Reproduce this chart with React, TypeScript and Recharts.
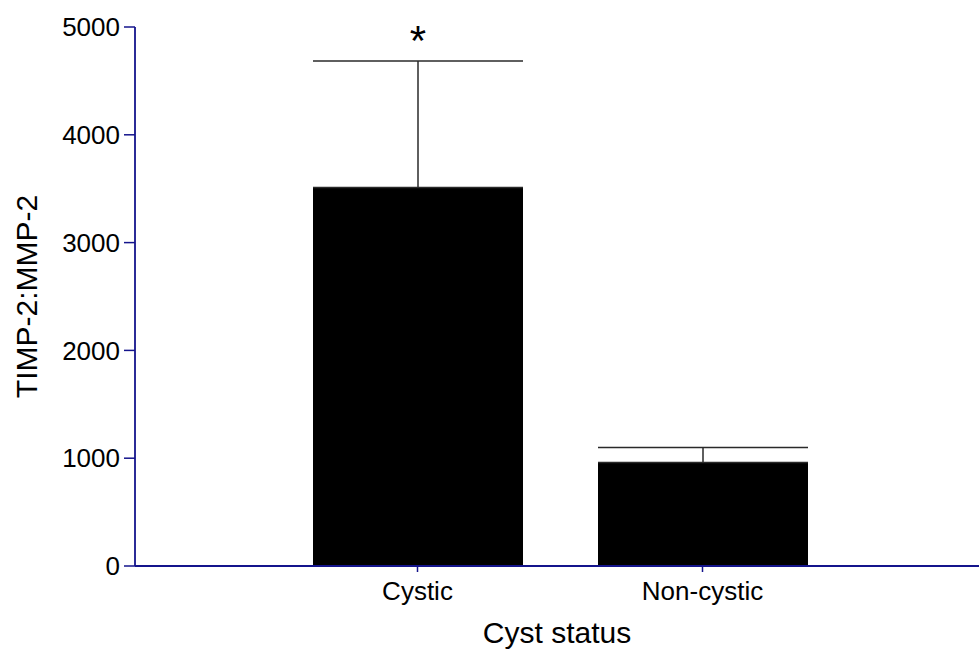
import React from "react";
import {
    Bar,
    BarChart,
    ErrorBar,
    Label,
    LabelList,
    XAxis,
    YAxis,
} from "recharts";

const categories = ["Cystic", "Non-cystic"];
const means = [3510, 960];
const sem = [1175, 140];
const significance = ["*", ""];
const yTicks = [0, 1000, 2000, 3000, 4000, 5000];

const AXIS = "#14148c";
const FONT = "Arial, 'Liberation Sans', sans-serif";

const data = categories.map((name, i) => ({
    name,
    mean: means[i],
    // one-sided (upward) error bar
    err: [0, sem[i]],
    sig: significance[i],
}));

const SigMark = (props: any) => {
    const { x, y, width, height, index } = props;
    const mark = significance[index];
    if (!mark) return null;
    // place the mark just above the top of the error bar
    const pxPerUnit = height / means[index];
    const top = y - sem[index] * pxPerUnit;
    return (
        <text
            x={x + width / 2}
            y={top - 6}
            textAnchor="middle"
            fontFamily={FONT}
            fontSize={42}
            fill="#000"
        >
            {mark}
        </text>
    );
};

export default function App() {
    return (
        <div
            style={{
                position: "absolute",
                left: 0,
                top: 0,
                width: 979,
                height: 649,
                overflow: "hidden",
                background: "#fff",
            }}
        >
            <BarChart
                width={979}
                height={649}
                data={data}
                margin={{ top: 27, right: 0, bottom: 0, left: 0 }}
            >
                <XAxis
                    dataKey="name"
                    height={83}
                    padding={{ left: 140, right: 134 }}
                    axisLine={{ stroke: AXIS, strokeWidth: 1.8 }}
                    tickLine={{ stroke: AXIS, strokeWidth: 1.5 }}
                    tickSize={6}
                    tickMargin={10}
                    tick={{ fill: "#000", fontSize: 26, fontFamily: FONT }}
                >
                    <Label
                        value="Cyst status"
                        position="insideBottom"
                        offset={6}
                        fill="#000"
                        fontSize={30}
                        fontFamily={FONT}
                    />
                </XAxis>
                <YAxis
                    width={135}
                    domain={[0, 5000]}
                    ticks={yTicks}
                    interval={0}
                    axisLine={{ stroke: AXIS, strokeWidth: 1.8 }}
                    tickLine={{ stroke: AXIS, strokeWidth: 1.5 }}
                    tickSize={11}
                    tickMargin={4}
                    tick={{ fill: "#000", fontSize: 26, fontFamily: FONT }}
                >
                    <Label
                        value="TIMP-2:MMP-2"
                        angle={-90}
                        position="center"
                        dx={-41}
                        fill="#000"
                        fontSize={30}
                        fontFamily={FONT}
                    />
                </YAxis>
                <Bar
                    dataKey="mean"
                    fill="#000"
                    barSize={210}
                    isAnimationActive={false}
                >
                    <ErrorBar
                        dataKey="err"
                        direction="y"
                        width={105}
                        stroke="#2a2a2a"
                        strokeWidth={1.5}
                    />
                    <LabelList dataKey="sig" content={<SigMark />} />
                </Bar>
            </BarChart>
        </div>
    );
}
